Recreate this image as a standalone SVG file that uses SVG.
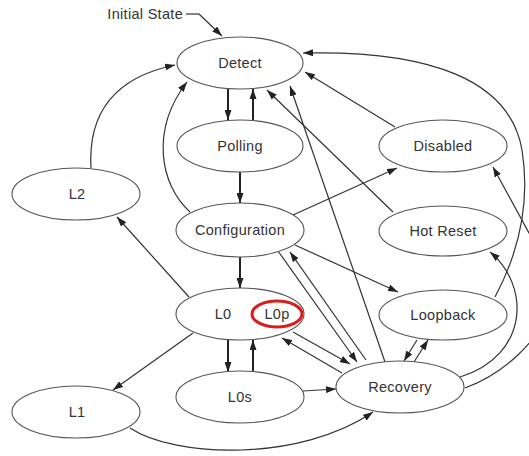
<svg xmlns="http://www.w3.org/2000/svg" width="529" height="456" viewBox="0 0 529 456">
<defs>
<marker id="ah" markerUnits="userSpaceOnUse" markerWidth="10" markerHeight="7" refX="10" refY="3.5" orient="auto">
<path d="M0,0 L10,3.5 L0,7 z" fill="#222"/>
</marker>
<style>
.n ellipse{fill:#fff;stroke:#555;stroke-width:1.1}
.n text{font-family:"Liberation Sans",Arial,sans-serif;font-size:14.5px;fill:#333;text-anchor:middle;letter-spacing:0.3px}
.e path{fill:none;stroke:#333;stroke-width:1.2;marker-end:url(#ah)}
.e path.t{stroke:#222;stroke-width:2}
.e path.nm{marker-end:none}
</style>
</defs>
<rect width="529" height="456" fill="#fff"/>
<g class="e" id="connectors">
<path class="nm" d="M186,14 L199,14"/>
<path d="M199,14 L222,36"/>
<path class="t" d="M228,89 L228,120"/>
<path class="t" d="M253,120 L253,89"/>
<path class="t" d="M240,172 L240,203"/>
<path class="t" d="M240,257 L240,288"/>
<path class="t" d="M228,340 L228,372"/>
<path class="t" d="M253,372 L253,340"/>
<path d="M91,168 C88,115 112,78 175,65"/>
<path d="M190,212 C160,185 150,130 187,82"/>
<path d="M189,297 L117,217"/>
<path d="M193,333 L113,390"/>
<path d="M130,428 C175,458 300,462 373,412"/>
<path d="M303,391 L336,389"/>
<path d="M293,332 L350,364"/>
<path d="M342,373 L282,338"/>
<path d="M278,251 L357,362"/>
<path d="M366,360 L290,252"/>
<path d="M385,362 L290,86"/>
<path d="M293,215 L397,168"/>
<path d="M295,245 L398,292"/>
<path d="M393,212 L267,90"/>
<path d="M395,127 L305,72"/>
<path d="M417,340 L404,361"/>
<path d="M414,362 L428,340"/>
<path d="M460,377 C530,355 530,285 490,252"/>
<path d="M465,388 C500,375 540,345 560,290 L493,167"/>
<path d="M495,297 C520,250 530,200 522,150 C510,80 430,50 303,53"/>
</g>
<g class="n" id="detect"><ellipse cx="240" cy="63" rx="63" ry="26"/><text x="240" y="68">Detect</text></g>
<g class="n" id="polling"><ellipse cx="240" cy="146" rx="63" ry="26"/><text x="240" y="151">Polling</text></g>
<g class="n" id="disabled"><ellipse cx="443" cy="146" rx="64" ry="26"/><text x="443" y="151">Disabled</text></g>
<g class="n" id="l2"><ellipse cx="76" cy="194" rx="64" ry="26"/><text x="77" y="199">L2</text></g>
<g class="n" id="configuration"><ellipse cx="240" cy="230" rx="64" ry="27"/><text x="240" y="235">Configuration</text></g>
<g class="n" id="hotreset"><ellipse cx="443" cy="231" rx="64" ry="25"/><text x="443" y="236">Hot Reset</text></g>
<g class="n" id="l0"><ellipse cx="240" cy="314" rx="64" ry="26"/><text x="223" y="319">L0</text>
<g id="l0p"><ellipse cx="277" cy="314" rx="25" ry="13" style="fill:none;stroke:#d81e1e;stroke-width:3"/><text x="277" y="319">L0p</text></g></g>
<g class="n" id="loopback"><ellipse cx="443" cy="315" rx="64" ry="25"/><text x="443" y="320">Loopback</text></g>
<g class="n" id="l0s"><ellipse cx="240" cy="397" rx="64" ry="26"/><text x="240" y="402">L0s</text></g>
<g class="n" id="l1"><ellipse cx="76" cy="412" rx="64" ry="26"/><text x="77" y="417">L1</text></g>
<g class="n" id="recovery"><ellipse cx="400" cy="387" rx="64" ry="26"/><text x="400" y="392">Recovery</text></g>
<g class="n" id="initial"><text x="183" y="19" style="text-anchor:end">Initial State</text></g>
</svg>
